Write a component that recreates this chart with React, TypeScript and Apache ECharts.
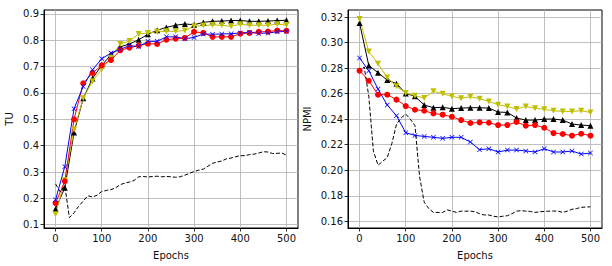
import React, { useEffect, useRef } from "react";
import * as echarts from "echarts";

const epochs = [0, 20, 40, 60, 80, 100, 120, 140, 160, 180, 200, 220, 240, 260, 280, 300, 320, 340, 360, 380, 400, 420, 440, 460, 480, 500];
const dashEpochs = [0, 10, 20, 30, 40, 50, 60, 70, 80, 90, 100, 110, 120, 130, 140, 150, 160, 170, 180, 190, 200, 210, 220, 230, 240, 250, 260, 270, 280, 290, 300, 310, 320, 330, 340, 350, 360, 370, 380, 390, 400, 410, 420, 430, 440, 450, 460, 470, 480, 490, 500];

const xTicks = [0, 100, 200, 300, 400, 500];
const tuTicks = [0.1, 0.2, 0.3, 0.4, 0.5, 0.6, 0.7, 0.8, 0.9];
const npmiTicks = [0.16, 0.18, 0.2, 0.22, 0.24, 0.26, 0.28, 0.3, 0.32];

// TU (left panel)
const tuBlack = [0.16, 0.24, 0.45, 0.58, 0.655, 0.705, 0.745, 0.775, 0.786, 0.802, 0.823, 0.838, 0.849, 0.857, 0.862, 0.859, 0.868, 0.872, 0.873, 0.875, 0.875, 0.872, 0.872, 0.873, 0.875, 0.876];
const tuYellow = [0.14, 0.27, 0.46, 0.58, 0.645, 0.69, 0.735, 0.786, 0.797, 0.824, 0.828, 0.832, 0.834, 0.834, 0.837, 0.853, 0.856, 0.858, 0.857, 0.853, 0.861, 0.857, 0.857, 0.857, 0.861, 0.858];
const tuRed = [0.182, 0.265, 0.5, 0.637, 0.676, 0.705, 0.725, 0.762, 0.772, 0.78, 0.787, 0.786, 0.802, 0.806, 0.809, 0.832, 0.828, 0.813, 0.813, 0.813, 0.825, 0.828, 0.832, 0.833, 0.837, 0.836];
const tuBlue = [0.195, 0.32, 0.54, 0.625, 0.688, 0.73, 0.752, 0.765, 0.78, 0.776, 0.796, 0.796, 0.813, 0.813, 0.806, 0.811, 0.824, 0.823, 0.824, 0.825, 0.828, 0.83, 0.826, 0.828, 0.832, 0.834];
const tuDashed = [0.255, 0.225, 0.248, 0.127, 0.145, 0.17, 0.19, 0.21, 0.205, 0.212, 0.226, 0.23, 0.233, 0.24, 0.252, 0.258, 0.262, 0.268, 0.282, 0.283, 0.281, 0.283, 0.284, 0.282, 0.283, 0.282, 0.28, 0.282, 0.288, 0.295, 0.302, 0.307, 0.311, 0.322, 0.333, 0.338, 0.342, 0.35, 0.353, 0.358, 0.362, 0.362, 0.366, 0.368, 0.372, 0.377, 0.376, 0.37, 0.371, 0.372, 0.364];

// NPMI (right panel)
const npmiBlack = [0.3153, 0.2821, 0.2764, 0.2706, 0.2678, 0.2602, 0.2579, 0.2511, 0.249, 0.2493, 0.2482, 0.2487, 0.249, 0.249, 0.2487, 0.2456, 0.2453, 0.2409, 0.2393, 0.2393, 0.2401, 0.2401, 0.2393, 0.2362, 0.2354, 0.2349];
const npmiYellow = [0.3184, 0.2931, 0.2834, 0.2727, 0.2657, 0.2605, 0.2584, 0.2566, 0.2618, 0.26, 0.2579, 0.2563, 0.2576, 0.256, 0.2539, 0.2513, 0.25, 0.2479, 0.25, 0.2485, 0.2477, 0.2466, 0.2461, 0.2461, 0.2466, 0.2453];
const npmiRed = [0.278, 0.2701, 0.2592, 0.2592, 0.2553, 0.2503, 0.2474, 0.2466, 0.2445, 0.2435, 0.2419, 0.2393, 0.237, 0.2375, 0.2372, 0.2354, 0.2354, 0.2378, 0.2349, 0.2354, 0.2333, 0.2291, 0.2284, 0.2271, 0.2286, 0.2271];
const npmiBlue = [0.2879, 0.278, 0.2636, 0.2511, 0.2427, 0.2294, 0.2273, 0.2265, 0.2258, 0.225, 0.2258, 0.2258, 0.2221, 0.2161, 0.2169, 0.2143, 0.2158, 0.2158, 0.2151, 0.2143, 0.2169, 0.2143, 0.2143, 0.2151, 0.2127, 0.2135];
const npmiDashed = [0.276, 0.281, 0.258, 0.215, 0.204, 0.207, 0.21, 0.221, 0.236, 0.241, 0.244, 0.24, 0.235, 0.195, 0.175, 0.17, 0.167, 0.167, 0.167, 0.169, 0.168, 0.167, 0.168, 0.168, 0.168, 0.1675, 0.166, 0.165, 0.165, 0.164, 0.1635, 0.164, 0.1644, 0.166, 0.168, 0.1684, 0.168, 0.1678, 0.167, 0.1675, 0.1678, 0.168, 0.1681, 0.168, 0.167, 0.168, 0.1695, 0.17, 0.171, 0.1712, 0.1714];

const FONT = "DejaVu Sans";
const X_SYMBOL = "path://M0,1L1,0L5,4L9,0L10,1L6,5L10,9L9,10L5,6L1,10L0,9L4,5Z";
const TRI_DOWN = "path://M0,0L10,0L5,9Z";

function pairs(xs: number[], ys: number[]) {
  return xs.map((x, i) => [x, ys[i]]);
}

function makeX(gridIndex: number) {
  return {
    type: "value",
    gridIndex,
    min: -25,
    max: 525,
    name: "Epochs",
    nameLocation: "middle",
    nameGap: 22,
    nameTextStyle: { fontSize: 10, color: "#111", fontFamily: FONT },
    axisLine: { show: true, onZero: false, lineStyle: { color: "#000", width: 1 } },
    axisTick: { show: true, length: 3.5, customValues: xTicks, lineStyle: { color: "#000", width: 0.8 } },
    axisLabel: { customValues: xTicks, fontSize: 10, color: "#111", fontFamily: FONT, margin: 5 },
    splitLine: { show: true, lineStyle: { color: "#b0b0b0", width: 0.8 } },
  };
}

function makeY(gridIndex: number, min: number, max: number, ticks: number[], digits: number, name: string, gap: number) {
  return {
    type: "value",
    gridIndex,
    min,
    max,
    name,
    nameLocation: "middle",
    nameGap: gap,
    nameTextStyle: { fontSize: 10, color: "#111", fontFamily: FONT },
    axisLine: { show: true, onZero: false, lineStyle: { color: "#000", width: 1 } },
    axisTick: { show: true, length: 3.5, customValues: ticks, lineStyle: { color: "#000", width: 0.8 } },
    axisLabel: {
      customValues: ticks,
      fontSize: 10,
      color: "#111",
      fontFamily: FONT,
      margin: 5,
      formatter: (v: number) => v.toFixed(digits),
    },
    splitLine: { show: true, lineStyle: { color: "#b0b0b0", width: 0.8 } },
  };
}

function makeSeries(idx: number, black: number[], yellow: number[], red: number[], blue: number[], dashed: number[]) {
  const base = { type: "line", xAxisIndex: idx, yAxisIndex: idx, silent: true };
  return [
    {
      ...base,
      data: pairs(epochs, black),
      symbol: "triangle",
      symbolSize: 6,
      lineStyle: { color: "#000", width: 1 },
      itemStyle: { color: "#000" },
    },
    {
      ...base,
      data: pairs(epochs, yellow),
      symbol: TRI_DOWN,
      symbolSize: 6,
      lineStyle: { color: "#bfbf00", width: 1 },
      itemStyle: { color: "#bfbf00" },
    },
    {
      ...base,
      data: pairs(epochs, red),
      symbol: "circle",
      symbolSize: 6,
      lineStyle: { color: "#ff0000", width: 1 },
      itemStyle: { color: "#ff0000" },
    },
    {
      ...base,
      data: pairs(epochs, blue),
      symbol: X_SYMBOL,
      symbolSize: 5,
      lineStyle: { color: "#0000ff", width: 1 },
      itemStyle: { color: "#0000ff" },
    },
    {
      ...base,
      data: pairs(dashEpochs, dashed),
      showSymbol: false,
      symbol: "none",
      lineStyle: { color: "#000", width: 1, type: [4, 2] },
    },
  ];
}

export default function App() {
  const ref = useRef<HTMLDivElement>(null);
  useEffect(() => {
    const chart = echarts.init(ref.current!, null, { renderer: "svg" });
    chart.setOption({
      animation: false,
      backgroundColor: "#fff",
      textStyle: { fontFamily: FONT },
      grid: [
        { left: 44, top: 10, width: 254, height: 218, show: true, borderColor: "#000", borderWidth: 1, backgroundColor: "transparent" },
        { left: 348, top: 10, width: 254, height: 218, show: true, borderColor: "#000", borderWidth: 1, backgroundColor: "transparent" },
      ],
      xAxis: [makeX(0), makeX(1)],
      yAxis: [
        makeY(0, 0.0875, 0.915, tuTicks, 1, "TU", 30),
        makeY(1, 0.1548, 0.3255, npmiTicks, 2, "NPMI", 36),
      ],
      series: [
        ...makeSeries(0, tuBlack, tuYellow, tuRed, tuBlue, tuDashed),
        ...makeSeries(1, npmiBlack, npmiYellow, npmiRed, npmiBlue, npmiDashed),
      ],
    });
    return () => chart.dispose();
  }, []);
  return <div ref={ref} style={{ position: "fixed", left: 0, top: 0, width: 612, height: 266 }} />;
}
